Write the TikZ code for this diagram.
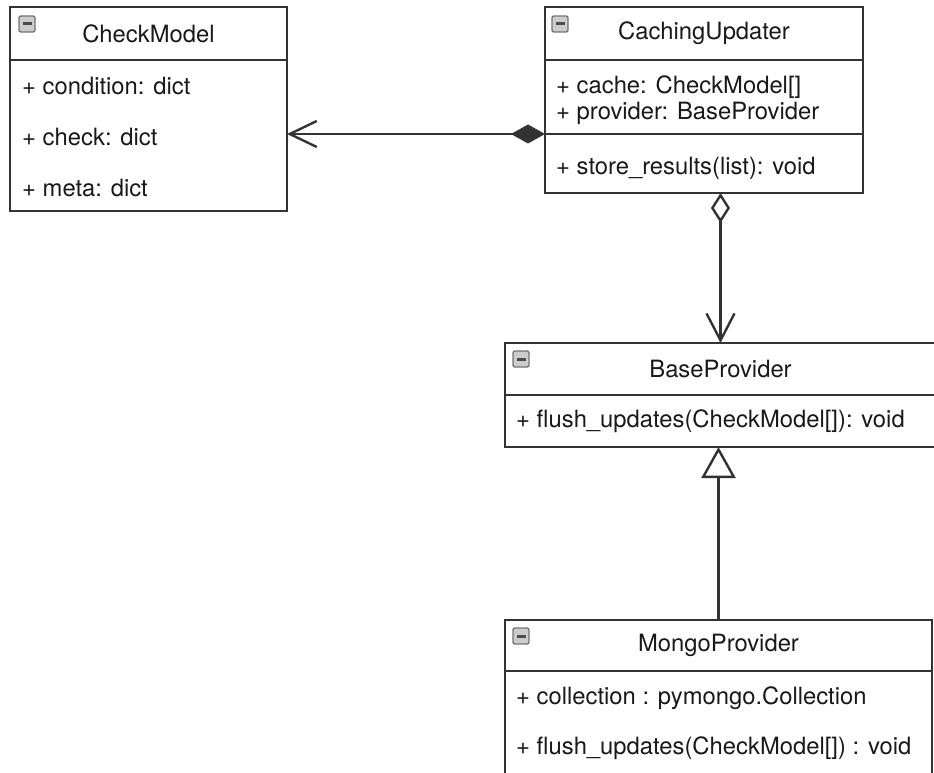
\documentclass[tikz,border=0pt]{standalone}
\usepackage{fontspec}
\setmainfont{TeX Gyre Heros}
\usetikzlibrary{arrows.meta, positioning}

\begin{document}
\begin{tikzpicture}[x=1pt, y=-1pt, font=\fontsize{23.8}{28}\selectfont, text=black!90]
		% Define styles
		\tikzstyle{classhead} = [draw=black!80, line width=2.4pt, rectangle, fill=white, inner sep=0pt, outer sep=0pt]
		\tikzstyle{compartment} = [draw=black!80, line width=2.4pt, rectangle, fill=white, inner sep=0pt, outer sep=0pt]
		\tikzstyle{member} = [anchor=west, inner sep=0pt]
		\tikzstyle{toggle} = [draw=black!55, fill=gray!40, rounded corners=2pt, minimum size=16pt, inner sep=0pt, line width=1.4pt,
			path picture={\draw[black!70, line width=3pt] ([xshift=-4.5pt]path picture bounding box.center) -- ([xshift=4.5pt]path picture bounding box.center);}]
		\tikzstyle{link} = [draw=black!80, line width=2.4pt]

		\useasboundingbox (0,0) rectangle (934,773);

		% CheckModel
		\node [classhead, minimum width=277pt, minimum height=53pt] (checkmodel) at (148.5,33.5) {CheckModel};
		\node [compartment, minimum width=277pt, minimum height=151pt, below=0pt of checkmodel] (checkmodel attrs) {};
		\node [toggle] (checkmodel toggle) at (27,24) {};
		\node [member] (condition) at (22,86) {+ condition: dict};
		\node [member] (check) at (22,137) {+ check: dict};
		\node [member] (meta) at (22,188) {+ meta: dict};

		% CachingUpdater
		\node [classhead, minimum width=318pt, minimum height=53pt] (caching) at (704,33.5) {CachingUpdater};
		\node [compartment, minimum width=318pt, minimum height=74pt, below=0pt of caching] (caching attrs) {};
		\node [compartment, minimum width=318pt, minimum height=59pt, below=0pt of caching attrs] (caching methods) {};
		\node [toggle] (caching toggle) at (560,24) {};
		\node [member] (cache) at (556,87) {+ cache: CheckModel[]};
		\node [member] (provider) at (556,113) {+ provider: BaseProvider};
		\node [member] (store) at (556,168) {+ store\_results(list): void};

		% BaseProvider
		\node [classhead, minimum width=431pt, minimum height=52pt] (base) at (720.5,369) {BaseProvider};
		\node [compartment, minimum width=431pt, minimum height=52pt, below=0pt of base] (base methods) {};
		\node [toggle] (base toggle) at (521,359) {};
		\node [member] (base flush) at (516,421) {+ flush\_updates(CheckModel[]): void};

		% MongoProvider
		\node [classhead, minimum width=427pt, minimum height=51pt] (mongo) at (718.5,645.5) {MongoProvider};
		\node [compartment, minimum width=427pt, minimum height=114pt, below=0pt of mongo] (mongo attrs) {};
		\node [toggle] (mongo toggle) at (521,636) {};
		\node [member] (collection) at (516,698) {+ collection : pymongo.Collection};
		\node [member] (mongo flush) at (516,748) {+ flush\_updates(CheckModel[]) : void};

		% Composition
		\draw [link, {Diamond[length=34pt, width=19pt]}-{Straight Barb[length=27pt, width=26pt]}] (caching attrs.south west) -- (caching attrs.south west -| checkmodel attrs.east);

		% Aggregation
		\draw [link, {Diamond[fill=white, length=30pt, width=19pt]}-{Straight Barb[length=27pt, width=28pt]}] (base.north |- caching methods.south) -- (base.north);

		% Generalization
		\draw [link, -{Triangle[fill=white, length=31pt, width=34pt]}] (mongo.north) -- (mongo.north |- base methods.south);

	\end{tikzpicture}
\end{document}
